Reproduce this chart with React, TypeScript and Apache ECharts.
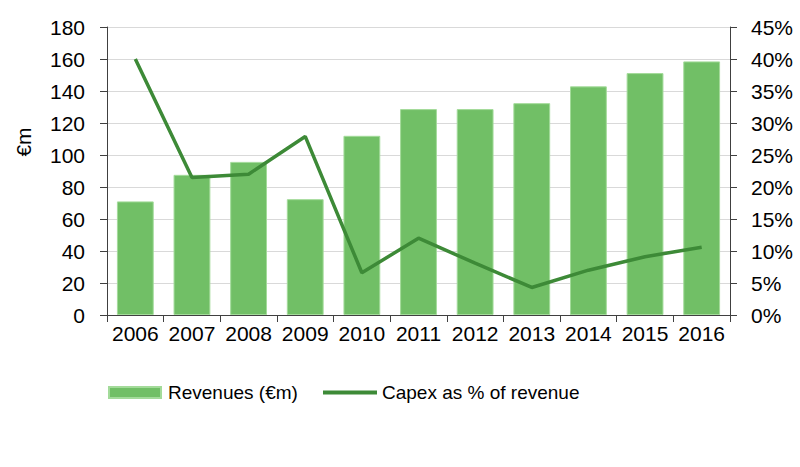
import React, { useEffect, useRef } from "react";
import * as echarts from "echarts";

const years = ["2006", "2007", "2008", "2009", "2010", "2011", "2012", "2013", "2014", "2015", "2016"];
const revenues = [71, 87.6, 95.7, 72.4, 112, 128.7, 128.7, 132.4, 142.9, 151.2, 158.5];
const capexPct = [40.0, 21.5, 22.0, 27.9, 6.6, 12.0, 8.1, 4.3, 7.0, 9.1, 10.6];

const FONT = "'Liberation Sans', Arial, sans-serif";
const BAR = "#71bf66";
const LINE = "#3d8a37";

export default function App() {
  const ref = useRef<HTMLDivElement>(null);
  useEffect(() => {
    if (!ref.current) return;
    const chart = echarts.init(ref.current, null, { renderer: "svg" });
    chart.setOption({
      animation: false,
      textStyle: { fontFamily: FONT, color: "#000" },
      grid: { left: 107, right: 70, top: 27, bottom: 152, containLabel: false },
      legend: [
        {
          left: 108,
          top: 383,
          padding: 0,
          itemWidth: 52,
          itemHeight: 11,
          textStyle: { fontFamily: FONT, fontSize: 19, color: "#000", padding: [0, 0, 0, 2] },
          data: [{ name: "Revenues (€m)", icon: "rect" }],
        },
        {
          left: 323,
          top: 383,
          padding: 0,
          itemWidth: 54,
          itemHeight: 4,
          textStyle: { fontFamily: FONT, fontSize: 19, color: "#000", padding: [0, 0, 0, 0] },
          data: [{ name: "Capex as % of revenue", icon: "rect", itemStyle: { color: LINE } }],
        },
      ],
      graphic: [
        {
          type: "text",
          x: 23,
          y: 142,
          rotation: Math.PI / 2,
          style: {
            text: "€m",
            fontFamily: FONT,
            fontSize: 21,
            fill: "#000",
            align: "center",
            verticalAlign: "middle",
          },
        },
      ],
      xAxis: {
        type: "category",
        data: years,
        boundaryGap: true,
        axisLine: { lineStyle: { color: "#404040", width: 1 } },
        axisTick: { show: true, alignWithLabel: false, length: 7, lineStyle: { color: "#404040" } },
        axisLabel: { fontFamily: FONT, fontSize: 21, color: "#000", margin: 8, interval: 0 },
      },
      yAxis: [
        {
          type: "value",
          min: 0,
          max: 180,
          interval: 20,
          axisLine: { show: true, lineStyle: { color: "#404040" } },
          axisTick: { show: true, length: 7, lineStyle: { color: "#404040" } },
          splitLine: { lineStyle: { color: "#d9d9d9", width: 1 } },
          axisLabel: { fontFamily: FONT, fontSize: 21, color: "#000", margin: 22 },
        },
        {
          type: "value",
          min: 0,
          max: 45,
          interval: 5,
          position: "right",
          axisLine: { show: true, lineStyle: { color: "#404040" } },
          axisTick: { show: true, length: 7, lineStyle: { color: "#404040" } },
          splitLine: { show: false },
          axisLabel: { fontFamily: FONT, fontSize: 21, color: "#000", margin: 21, formatter: "{value}%" },
        },
      ],
      series: [
        {
          name: "Revenues (€m)",
          type: "bar",
          data: revenues,
          barCategoryGap: "35%",
          itemStyle: { color: BAR, borderColor: "#a3db9a", borderWidth: 1 },
        },
        {
          name: "Capex as % of revenue",
          type: "line",
          yAxisIndex: 1,
          data: capexPct,
          symbol: "none",
          lineStyle: { color: LINE, width: 3.5 },
          itemStyle: { color: LINE },
        },
      ],
    });
    return () => chart.dispose();
  }, []);
  return <div ref={ref} style={{ width: 800, height: 467, position: "absolute", left: 0, top: 0 }} />;
}
